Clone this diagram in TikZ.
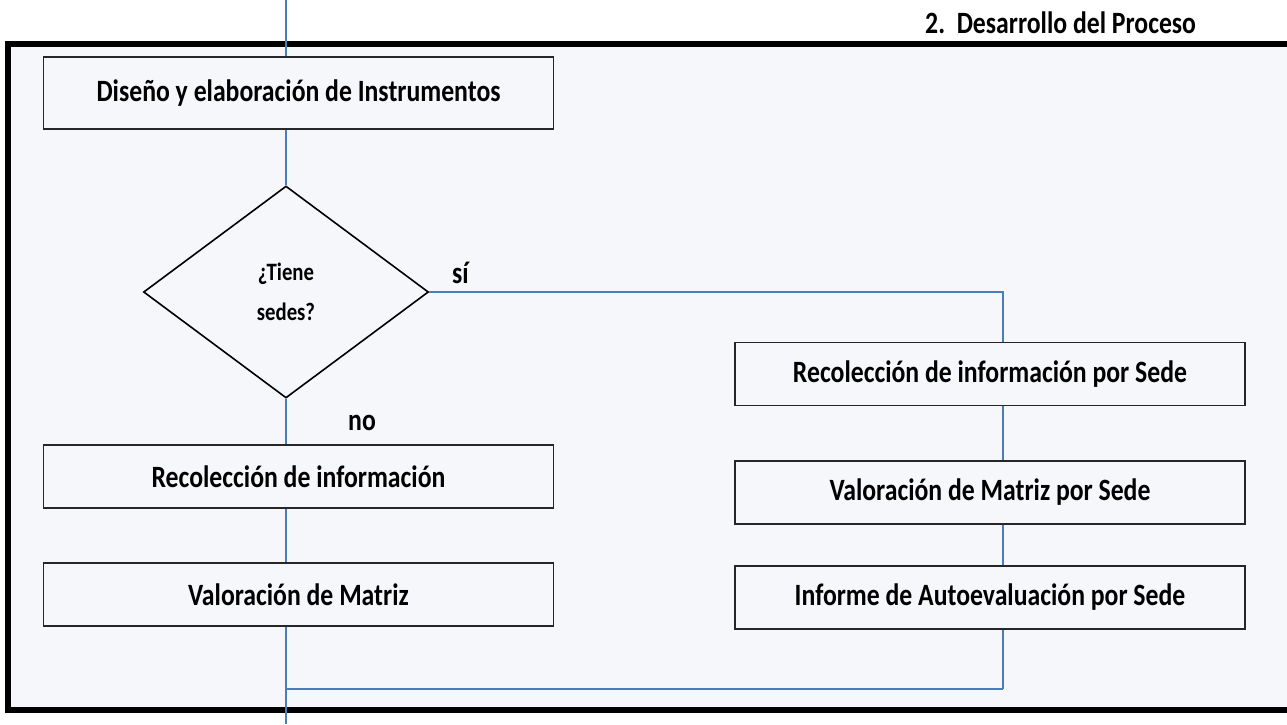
\documentclass[tikz,border=0pt]{standalone}
\usepackage{fontspec}
\setmainfont{Carlito}[FakeStretch=0.83]
\usetikzlibrary{shapes.geometric}
\definecolor{bg}{HTML}{F6F7FB}
\definecolor{connc}{HTML}{4A7EBB}
\begin{document}
\begin{tikzpicture}[x=1pt,y=-1pt,
  procbox/.style={draw=black!85, line width=1.3pt, fill=bg, minimum width=510pt, minimum height=63pt, inner sep=0pt, font=\fontsize{31}{36}\selectfont\bfseries},
  decbox/.style={diamond, draw=black, line width=1.6pt, fill=bg, minimum width=285pt, minimum height=212pt, inner sep=0pt, align=center, font=\fontsize{25}{40}\selectfont\bfseries},
  conn/.style={draw=connc, line width=1.8pt},
  lbl/.style={font=\fontsize{31}{36}\selectfont\bfseries, inner sep=0pt}]
\useasboundingbox (0,0) rectangle (1287,724);
\fill[white] (0,0) rectangle (1287,724);
\draw[line width=5.5pt, fill=bg] (8,44) rectangle (1300,710);
% nodes
\node[procbox, minimum height=72pt] (dis) at (298.5,93) {Diseño y elaboración de Instrumentos};
\node[decbox] (dia) at (286,292) {¿Tiene\\sedes?};
\node[procbox] (rec) at (298.5,476.5) {Recolección de información};
\node[procbox] (val) at (298.5,594.5) {Valoración de Matriz};
\node[procbox] (recs) at (990,374) {Recolección de información por Sede};
\node[procbox] (vals) at (990,492.5) {Valoración de Matriz por Sede};
\node[procbox] (inf) at (990,597.5) {Informe de Autoevaluación por Sede};
% labels
\node[lbl, anchor=base west] (si) at (452,283) {sí};
\node[lbl, anchor=base west] (no) at (348,430) {no};
\node[lbl, anchor=base west] (title) at (925,33) {2.\ \ Desarrollo del Proceso};
% coordinates
\coordinate (top) at (286,0);
\coordinate (bot) at (286,724);
\coordinate (join) at (286,689);
\coordinate (rcol) at (1003,292);
% connectors
\draw[conn] (top) -- (top |- dis.north);
\draw[conn] (dis.south -| dia.north) -- (dia.north);
\draw[conn] (dia.south) -- (dia.south |- rec.north);
\draw[conn] (rec.south -| dia.south) -- (val.north -| dia.south);
\draw[conn] (val.south -| dia.south) -- (bot);
\draw[conn] (dia.east) -- (rcol) -- (rcol |- recs.north);
\draw[conn] (recs.south -| rcol) -- (vals.north -| rcol);
\draw[conn] (vals.south -| rcol) -- (inf.north -| rcol);
\draw[conn] (inf.south -| rcol) -- (rcol |- join);
\draw[conn, line width=2.8pt] (rcol |- join) -- (join);
\end{tikzpicture}
\end{document}
